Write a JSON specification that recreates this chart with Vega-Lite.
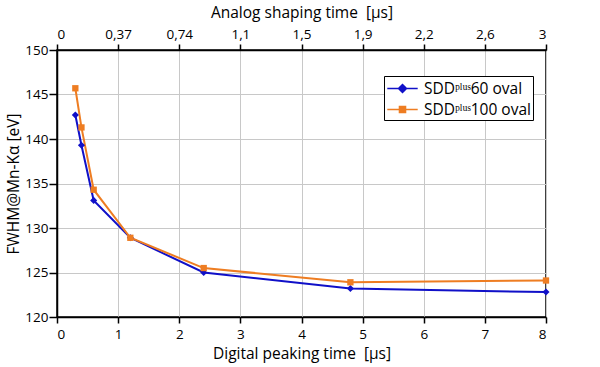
{
  "$schema": "https://vega.github.io/schema/vega-lite/v6.json",
  "autosize": {"type": "none"},
  "width": 489,
  "height": 267,
  "padding": {"left": 57, "top": 50, "right": 54, "bottom": 50},
  "background": "white",
  "config": {
    "font": "Open Sans",
    "view": {"stroke": "black", "strokeWidth": 1.5},
    "axis": {
      "domainColor": "black", "domainWidth": 1.5, "tickColor": "black", "tickWidth": 1.5, "tickSize": 6,
      "labelFontSize": 13.5, "labelColor": "#000", "titleFontSize": 15.5, "titleFontWeight": "normal", "titleColor": "#000",
      "gridColor": "#c8c8c8", "gridWidth": 1
    }
  },
  "data": {"values": [
    {"series": "SDDᵖˡᵘˢ60 oval", "t": 0.3, "fwhm": 142.7},
    {"series": "SDDᵖˡᵘˢ60 oval", "t": 0.4, "fwhm": 139.3},
    {"series": "SDDᵖˡᵘˢ60 oval", "t": 0.6, "fwhm": 133.1},
    {"series": "SDDᵖˡᵘˢ60 oval", "t": 1.2, "fwhm": 128.9},
    {"series": "SDDᵖˡᵘˢ60 oval", "t": 2.4, "fwhm": 125.0},
    {"series": "SDDᵖˡᵘˢ60 oval", "t": 4.8, "fwhm": 123.2},
    {"series": "SDDᵖˡᵘˢ60 oval", "t": 8.0, "fwhm": 122.8},
    {"series": "SDDᵖˡᵘˢ100 oval", "t": 0.3, "fwhm": 145.7},
    {"series": "SDDᵖˡᵘˢ100 oval", "t": 0.4, "fwhm": 141.3},
    {"series": "SDDᵖˡᵘˢ100 oval", "t": 0.6, "fwhm": 134.3},
    {"series": "SDDᵖˡᵘˢ100 oval", "t": 1.2, "fwhm": 128.9},
    {"series": "SDDᵖˡᵘˢ100 oval", "t": 2.4, "fwhm": 125.5},
    {"series": "SDDᵖˡᵘˢ100 oval", "t": 4.8, "fwhm": 123.9},
    {"series": "SDDᵖˡᵘˢ100 oval", "t": 8.0, "fwhm": 124.1}
  ]},
  "resolve": {"axis": {"x": "independent"}},
  "layer": [
    {
      "mark": {"type": "line", "strokeWidth": 2},
      "encoding": {
        "x": {"field": "t", "type": "quantitative", "scale": {"domain": [0, 8], "nice": false},
              "axis": {"orient": "bottom", "values": [0,1,2,3,4,5,6,7,8], "title": "Digital peaking time \u00a0[µs]", "titlePadding": 6, "labelPadding": 4}},
        "y": {"field": "fwhm", "type": "quantitative", "scale": {"domain": [120, 150], "nice": false, "zero": false},
              "axis": {"values": [120,125,130,135,140,145,150], "title": "FWHM@Mn-Kα [eV]", "titlePadding": 3, "tickSize": 8, "labelPadding": 1}},
        "color": {"field": "series", "type": "nominal",
                  "scale": {"domain": ["SDDᵖˡᵘˢ60 oval", "SDDᵖˡᵘˢ100 oval"], "range": ["#1010c8", "#ee7d22"]},
                  "legend": {
                    "title": null, "orient": "none", "legendX": 327, "legendY": 26,
                    "strokeColor": "black", "fillColor": "white", "padding": 2,
                    "labelFontSize": 15.5, "labelColor": "#000", "symbolSize": 361, "symbolStrokeWidth": 1.5, "rowPadding": 2,
                    "symbolOffset": 6, "labelOffset": 11,
                    "encode": {"symbols": {"update": {
                      "shape": {"signal": "datum.value === 'SDDᵖˡᵘˢ60 oval' ? 'M-1.6,0H1.6M0,-0.42L0.42,0L0,0.42L-0.42,0Z' : 'M-1.6,0H1.6M-0.32,-0.32H0.32V0.32H-0.32Z'"},
                      "fill": {"scale": "color", "field": "value"},
                      "stroke": {"scale": "color", "field": "value"}
                    }}}
                  }}
      }
    },
    {
      "transform": [{"filter": {"field": "series", "equal": "SDDᵖˡᵘˢ60 oval"}}],
      "mark": {"type": "point", "filled": true, "opacity": 1, "shape": "diamond", "size": 50},
      "encoding": {
        "x": {"field": "t", "type": "quantitative", "scale": {"domain": [0, 8], "nice": false},
              "axis": {"orient": "top", "values": [0,1,2,3,4,5,6,7,8], "grid": true,
                       "labelExpr": "['0','0,37','0,74','1,1','1,5','1,9','2,2','2,6','3'][datum.value]",
                       "title": "Analog shaping time \u00a0[µs]", "titlePadding": 7, "labelPadding": 3}},
        "y": {"field": "fwhm", "type": "quantitative"},
        "color": {"field": "series", "type": "nominal", "legend": null}
      }
    },
    {
      "transform": [{"filter": {"field": "series", "equal": "SDDᵖˡᵘˢ100 oval"}}],
      "mark": {"type": "point", "filled": true, "opacity": 1, "shape": "square", "size": 40},
      "encoding": {
        "x": {"field": "t", "type": "quantitative", "axis": null},
        "y": {"field": "fwhm", "type": "quantitative"},
        "color": {"field": "series", "type": "nominal", "legend": null}
      }
    }
  ]
}
